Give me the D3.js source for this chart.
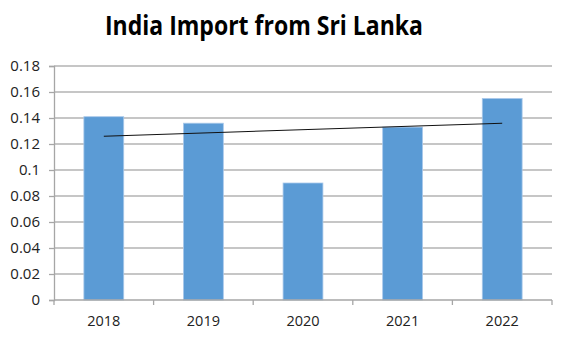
<!DOCTYPE html>
<html><head><meta charset="utf-8">
<script src="https://cdn.jsdelivr.net/npm/d3@7"></script>
<style>body{margin:0;background:#fff}svg{display:block}</style>
</head><body><svg id="c" width="580" height="340"></svg>
<script>
const title = "India Import from Sri Lanka";
const years = ["2018","2019","2020","2021","2022"];
const imports = [0.141, 0.136, 0.090, 0.133, 0.155];
const yTicks = [0,0.02,0.04,0.06,0.08,0.1,0.12,0.14,0.16,0.18];

const svg = d3.select("#c");
const L=54, R=552, T=66, B=300;
const x = d3.scaleBand().domain(years).range([L,R]).paddingInner(0.6).paddingOuter(0.3);
const xb = d3.scaleBand().domain(years).range([L,R]);
const y = d3.scaleLinear().domain([0,0.18]).range([B,T]);

svg.append("text").attr("x",264).attr("y",35).attr("text-anchor","middle")
  .attr("font-family","Open Sans, sans-serif").attr("font-weight","bold").attr("font-size",26)
  .attr("textLength",318).attr("lengthAdjust","spacingAndGlyphs")
  .attr("fill","#000").text(title);

// gridlines
svg.append("g").selectAll("line").data(yTicks.slice(1)).join("line")
  .attr("x1",L).attr("x2",R).attr("y1",d=>y(d)).attr("y2",d=>y(d))
  .attr("stroke","#b3b3b3").attr("stroke-width",1.3);

// y axis
const ya = svg.append("g").attr("transform",`translate(${L},0)`)
  .call(d3.axisLeft(y).tickValues(yTicks).tickSize(5).tickPadding(9).tickFormat(d=>String(+d.toFixed(2))));
ya.select(".domain").attr("stroke","#a6a6a6").attr("stroke-width",1.3);
ya.selectAll(".tick line").attr("stroke","#a6a6a6").attr("stroke-width",1.3);
ya.selectAll("text").attr("font-family","Open Sans, sans-serif").attr("font-size",15).attr("fill","#222");

// bars
svg.append("g").selectAll("rect").data(imports).join("rect")
  .attr("x",(d,i)=>x(years[i])).attr("width",x.bandwidth())
  .attr("y",d=>y(d)).attr("height",d=>B-y(d))
  .attr("fill","#5b9bd5").attr("stroke","#a9c8ea").attr("stroke-width",0.8);

// x axis
const xa = svg.append("g").attr("transform",`translate(0,${B})`)
  .call(d3.axisBottom(xb).tickSize(0).tickPadding(16));
xa.select(".domain").remove();
xa.selectAll("text").attr("font-family","Open Sans, sans-serif").attr("font-size",14.5).attr("fill","#222");
svg.append("line").attr("x1",L).attr("x2",R).attr("y1",B).attr("y2",B).attr("stroke","#a6a6a6").attr("stroke-width",1.3);
const bounds = years.map(d=>xb(d)).concat([R]);
svg.append("g").selectAll("line").data(bounds).join("line")
  .attr("x1",d=>d).attr("x2",d=>d).attr("y1",B).attr("y2",B+5)
  .attr("stroke","#a6a6a6").attr("stroke-width",1.3);

// linear trendline
const n = imports.length, xs = d3.range(1,n+1);
const mx = d3.mean(xs), my = d3.mean(imports);
const slope = d3.sum(xs.map((v,i)=>(v-mx)*(imports[i]-my))) / d3.sum(xs.map(v=>(v-mx)**2));
const icpt = my - slope*mx;
const cx = i => x(years[i]) + x.bandwidth()/2;
svg.append("line").attr("x1",cx(0)).attr("x2",cx(n-1))
  .attr("y1",y(icpt+slope*1)).attr("y2",y(icpt+slope*n))
  .attr("stroke","#111").attr("stroke-width",1.1);
</script></body></html>
